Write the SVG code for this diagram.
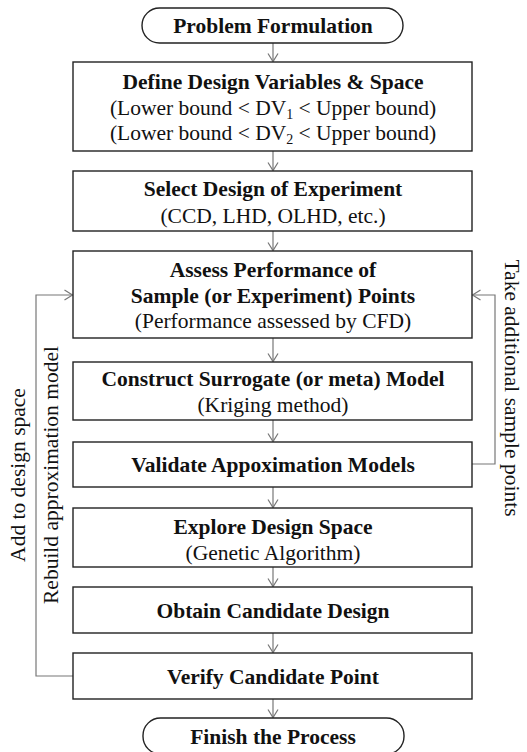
<svg xmlns="http://www.w3.org/2000/svg" width="527" height="752" viewBox="0 0 527 752" font-family="'Liberation Serif', 'Times New Roman', 'DejaVu Serif', serif">
<style>
.box{fill:#fff;stroke:#222;stroke-width:1.4}
text{font-family:'Liberation Serif','Times New Roman','DejaVu Serif',serif}
.t{font-size:21.5px;fill:#111;text-anchor:middle}
.b{font-weight:bold}
.lab{font-size:21.5px;fill:#111;text-anchor:middle}
.c{fill:none;stroke:#777;stroke-width:1.2}
</style>
<defs>
<marker id="ah" markerUnits="userSpaceOnUse" markerWidth="12" markerHeight="14" refX="0" refY="0" viewBox="-10 -7 12 14" orient="auto" overflow="visible">
<path d="M-8,-5 L0,0 L-8,5" fill="none" stroke="#777" stroke-width="1.2"/>
</marker>
</defs>
<rect width="527" height="752" fill="#fff"/>
<g id="connectors">
<line class="c" x1="273" y1="43" x2="273" y2="61.5" marker-end="url(#ah)"/>
<line class="c" x1="273" y1="151" x2="273" y2="170.5" marker-end="url(#ah)"/>
<line class="c" x1="273" y1="231" x2="273" y2="250.5" marker-end="url(#ah)"/>
<line class="c" x1="273" y1="338" x2="273" y2="361.5" marker-end="url(#ah)"/>
<line class="c" x1="273" y1="420" x2="273" y2="441.5" marker-end="url(#ah)"/>
<line class="c" x1="273" y1="487" x2="273" y2="507.5" marker-end="url(#ah)"/>
<line class="c" x1="273" y1="567" x2="273" y2="586.5" marker-end="url(#ah)"/>
<line class="c" x1="273" y1="633" x2="273" y2="652.5" marker-end="url(#ah)"/>
<line class="c" x1="273" y1="699" x2="273" y2="717.5" marker-end="url(#ah)"/>
<polyline class="c" points="73,676 36,676 36,295 72.5,295" marker-end="url(#ah)"/>
<polyline class="c" points="472,464 495,464 495,295 472.5,295" marker-end="url(#ah)"/>
</g>
<g id="labels">
<text class="lab" transform="translate(25,475) rotate(-90)">Add to design space</text>
<text class="lab" transform="translate(58,475) rotate(-90)">Rebuild approximation model</text>
<text class="lab" transform="translate(505,388) rotate(90)">Take additional sample points</text>
</g>
<g id="start">
<rect class="box" x="142" y="8" width="261" height="35" rx="17.5"/>
<text class="t b" x="273" y="33">Problem Formulation</text>
</g>
<g id="define">
<rect class="box" x="73" y="62" width="399" height="89"/>
<text class="t b" x="273" y="89">Define Design Variables &amp; Space</text>
<text class="t" x="273" y="115">(Lower bound &lt; DV<tspan font-size="14" dy="4">1</tspan><tspan dy="-4"> &lt; Upper bound)</tspan></text>
<text class="t" x="273" y="140">(Lower bound &lt; DV<tspan font-size="14" dy="4">2</tspan><tspan dy="-4"> &lt; Upper bound)</tspan></text>
</g>
<g id="doe">
<rect class="box" x="73" y="171" width="399" height="60"/>
<text class="t b" x="273" y="196">Select Design of Experiment</text>
<text class="t" x="273" y="222.5">(CCD, LHD, OLHD, etc.)</text>
</g>
<g id="assess">
<rect class="box" x="73" y="251" width="399" height="87"/>
<text class="t b" x="273" y="276.5">Assess Performance of</text>
<text class="t b" x="273" y="302.5">Sample (or Experiment) Points</text>
<text class="t" x="273" y="327.5">(Performance assessed by CFD)</text>
</g>
<g id="surrogate">
<rect class="box" x="73" y="362" width="399" height="58"/>
<text class="t b" x="273" y="385.5">Construct Surrogate (or meta) Model</text>
<text class="t" x="273" y="411.5">(Kriging method)</text>
</g>
<g id="validate">
<rect class="box" x="73" y="442" width="399" height="45"/>
<text class="t b" x="273" y="471.5">Validate Appoximation Models</text>
</g>
<g id="explore">
<rect class="box" x="73" y="508" width="399" height="59"/>
<text class="t b" x="273" y="534">Explore Design Space</text>
<text class="t" x="273" y="559.5">(Genetic Algorithm)</text>
</g>
<g id="obtain">
<rect class="box" x="73" y="587" width="399" height="46"/>
<text class="t b" x="273" y="618">Obtain Candidate Design</text>
</g>
<g id="verify">
<rect class="box" x="73" y="653" width="399" height="46"/>
<text class="t b" x="273" y="684">Verify Candidate Point</text>
</g>
<g id="finish">
<rect class="box" x="143" y="718" width="261" height="36" rx="17.5"/>
<text class="t b" x="273" y="744">Finish the Process</text>
</g>
</svg>
